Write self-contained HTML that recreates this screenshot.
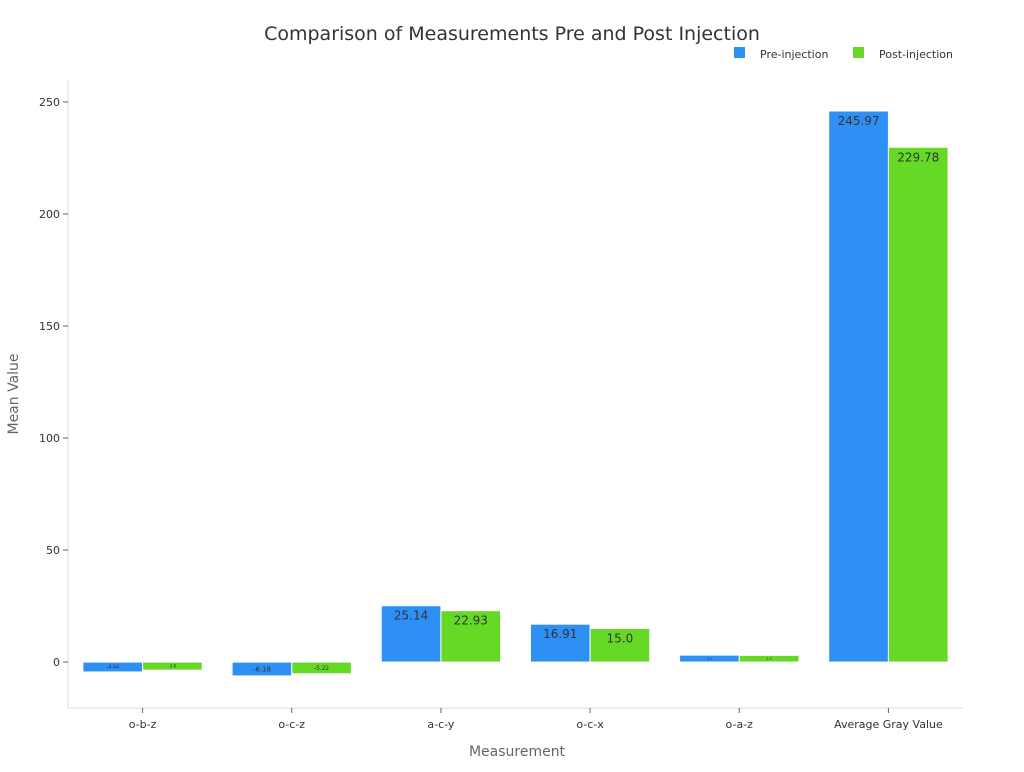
<!DOCTYPE html>
<html><head><meta charset="utf-8"><style>
body{margin:0;background:#fff;font-family:"DejaVu Sans","Liberation Sans",sans-serif}
</style></head><body>
<svg id="chart" width="1024" height="768" xmlns="http://www.w3.org/2000/svg" font-family="DejaVu Sans, Liberation Sans, sans-serif">
<text x="512" y="40" text-anchor="middle" font-size="19" fill="#333">Comparison of Measurements Pre and Post Injection</text>
<g>
<rect x="734" y="47" width="11" height="11" fill="#2e90f5"/>
<text x="760" y="58" font-size="11" fill="#333">Pre-injection</text>
<rect x="853" y="47" width="11" height="11" fill="#66d926"/>
<text x="879" y="58" font-size="11" fill="#333">Post-injection</text>
</g>
<g id="plot"></g>
<text x="517" y="756" text-anchor="middle" font-size="14" fill="#666">Measurement</text>
<text x="18" y="394" text-anchor="middle" font-size="14" fill="#666" transform="rotate(-90 18 394)">Mean Value</text>
</svg>
<script>
const categories=["o-b-z","o-c-z","a-c-y","o-c-x","o-a-z","Average Gray Value"];
const preValues=[-4.4,-6.18,25.14,16.91,3.1,245.97];
const postValues=[-3.6,-5.22,22.93,15.0,3.0,229.78];
const preLabels=["-4.44","-6.18","25.14","16.91","3.1","245.97"];
const postLabels=["-3.6","-5.22","22.93","15.0","3.0","229.78"];
const yTicks=[0,50,100,150,200,250];
const L=68,R=963,T=80,B=708,yMin=-20.5,yMax=259.8;
const ns="http://www.w3.org/2000/svg";
const g=document.getElementById('plot');
function y(v){return B-(v-yMin)/(yMax-yMin)*(B-T);}
const band=(R-L)/categories.length;
function cx(i){return L+band*(i+0.5);}
function mk(t,a){const e=document.createElementNS(ns,t);for(const k in a)e.setAttribute(k,a[k]);g.appendChild(e);return e;}
let ax=mk('line',{x1:L,y1:T,x2:L,y2:B,stroke:'#ddd'});

ax=mk('line',{x1:L,y1:B,x2:R,y2:B,stroke:'#ddd'});

yTicks.forEach(v=>{
 const tk=mk('line',{x1:L-5,x2:L,y1:y(v),y2:y(v),stroke:'#666'});
 
 const t=mk('text',{x:L-8,y:y(v)+4,'text-anchor':'end','font-size':11,fill:'#333'});t.textContent=v;
 
});
const bw=band*0.4;
categories.forEach((c,i)=>{
 const tk=mk('line',{x1:cx(i),x2:cx(i),y1:B,y2:B+5,stroke:'#666'});
 
 const t=mk('text',{x:cx(i),y:B+20,'text-anchor':'middle','font-size':11,fill:'#333'});t.textContent=c;
 
 [[preValues,preLabels,'#2e90f5',-1,'pre'],[postValues,postLabels,'#66d926',0,'post']].forEach(([vals,labs,col,off,nm])=>{
  const v=vals[i];const y0=y(0),y1=y(v);
  const top=Math.min(y0,y1),h=Math.abs(y1-y0);
  const x=cx(i)+off*bw;
  const r=mk('rect',{x:x,y:top,width:bw,height:h,fill:col,stroke:'#fff','stroke-width':1});
  
  
  const fs=Math.min(12,Math.max(3,h*0.5));
  const ly=h>20?top+14:top+h/2+fs*0.35;
  const lt=mk('text',{x:x+bw/2,y:ly,'text-anchor':'middle','font-size':fs,fill:'#333'});lt.textContent=labs[i];
  
 });
});
</script>
</body></html>
